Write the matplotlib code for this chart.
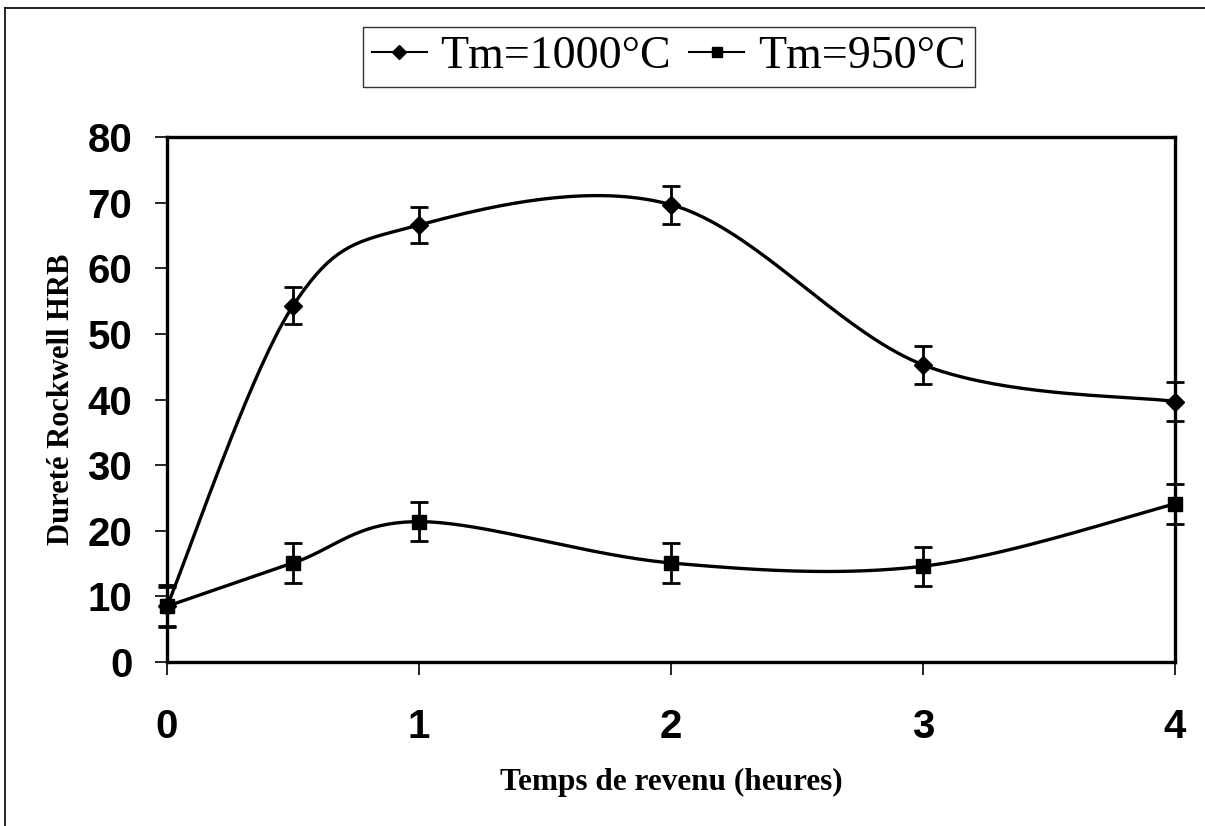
import matplotlib.pyplot as plt
import numpy as np

# temps de revenu (heures)
temps = [0, 0.5, 1, 2, 3, 4]

# dureté HRB
hrb_1000 = [8.5, 54.3, 66.6, 69.7, 45.3, 39.7]
hrb_950 = [8.5, 15.1, 21.4, 15.1, 14.6, 24.1]
err_1000 = [3, 2.8, 2.8, 2.9, 2.9, 3]
err_950 = [3.2, 3, 3, 3, 3, 3]

xticks = [0, 1, 2, 3, 4]
yticks = [0, 10, 20, 30, 40, 50, 60, 70, 80]


def smooth(x, y, n=40):
    # courbe lissée façon Excel (Catmull-Rom / Bezier)
    x = np.asarray(x, float)
    y = np.asarray(y, float)
    px = np.concatenate([[x[0]], x, [x[-1]]])
    py = np.concatenate([[y[0]], y, [y[-1]]])
    xs, ys = [], []
    t = np.linspace(0, 1, n)
    for i in range(1, len(px) - 2):
        p0 = np.array([px[i], py[i]])
        p3 = np.array([px[i + 1], py[i + 1]])
        c1 = p0 + (np.array([px[i + 1], py[i + 1]]) - np.array([px[i - 1], py[i - 1]])) / 6
        c2 = p3 - (np.array([px[i + 2], py[i + 2]]) - np.array([px[i], py[i]])) / 6
        b = ((1 - t) ** 3)[:, None] * p0 + (3 * (1 - t) ** 2 * t)[:, None] * c1 \
            + (3 * (1 - t) * t ** 2)[:, None] * c2 + (t ** 3)[:, None] * p3
        xs.extend(b[:, 0])
        ys.extend(b[:, 1])
    return xs, ys


fig = plt.figure(figsize=(12.05, 8.26), dpi=100)
ax = fig.add_axes([0.1386, 0.1985, 0.8365, 0.6355])

sx, sy = smooth(temps, hrb_1000)
ax.plot(sx, sy, color='black', lw=2.4, clip_on=False)
ax.errorbar(temps, hrb_1000, yerr=err_1000, fmt='D', color='black', ms=9,
            capsize=6.5, elinewidth=2, capthick=2, clip_on=False)

sx, sy = smooth(temps, hrb_950)
ax.plot(sx, sy, color='black', lw=2.4, clip_on=False)
ax.errorbar(temps, hrb_950, yerr=err_950, fmt='s', color='black', ms=10,
            capsize=6.5, elinewidth=2, capthick=2, clip_on=False)

# légende
l1, = ax.plot([], [], '-D', color='black', lw=1.5, ms=7)
l2, = ax.plot([], [], '-s', color='black', lw=1.5, ms=7)
leg = fig.legend([l1, l2], ['Tm=1000°C', 'Tm=950°C'], ncol=2,
                 loc='center', bbox_to_anchor=(0.555, 0.931),
                 prop={'family': 'Liberation Serif', 'size': 33},
                 frameon=True, fancybox=False, edgecolor='black',
                 handlelength=1.2, handletextpad=0.3, columnspacing=0.4,
                 borderpad=0.2, borderaxespad=0)
leg.get_frame().set_linewidth(1)

ax.set_xlim(0, 4)
ax.set_ylim(0, 80)
ax.set_xticks(xticks)
ax.set_yticks(yticks)
for s in ax.spines.values():
    s.set_linewidth(2.4)
ax.tick_params(axis='both', direction='out', length=9, width=1.2)
ax.tick_params(axis='y', pad=16)
ax.tick_params(axis='x', pad=24)
for lab in ax.get_xticklabels() + ax.get_yticklabels():
    lab.set_fontfamily('Liberation Sans')
    lab.set_fontweight('bold')
    lab.set_fontsize(29)

ax.set_xlabel('Temps de revenu (heures)', family='Liberation Serif',
              fontweight='bold', fontsize=22.5, labelpad=16)
ax.set_ylabel('Dureté Rockwell HRB', family='Liberation Serif',
              fontweight='bold', fontsize=22, labelpad=8)

# cadre extérieur
fig.add_artist(plt.Line2D([0.004, 1], [0.99, 0.99], color='black', lw=1.2))
fig.add_artist(plt.Line2D([0.004, 0.004], [0, 0.99], color='black', lw=1.2))

fig.savefig('out.png', dpi=100)
